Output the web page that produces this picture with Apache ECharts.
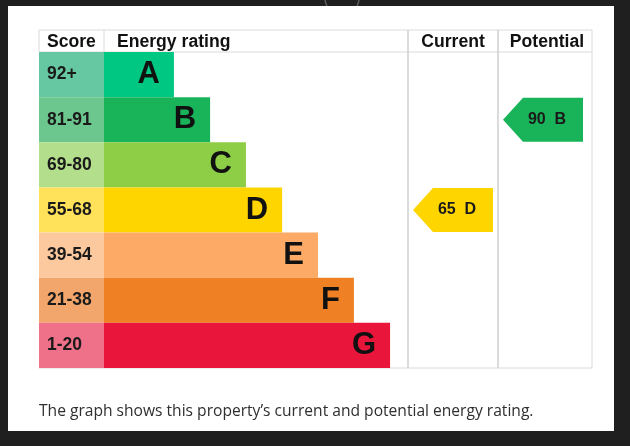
<!DOCTYPE html>
<html>
<head>
<meta charset="utf-8">
<script src="https://cdn.jsdelivr.net/npm/echarts@6/dist/echarts.min.js"></script>
<style>
  html, body { margin: 0; padding: 0; background: #1f1f1f; }
  #main { width: 630px; height: 446px; }
</style>
</head>
<body>
<div id="main"></div>
<script>
// bands, top to bottom
var bands = ['A', 'B', 'C', 'D', 'E', 'F', 'G'];
var scoreLabels = ['92+', '81-91', '69-80', '55-68', '39-54', '21-38', '1-20'];
var bandMin = [92, 81, 69, 55, 39, 21, 1];
// bar length, as % of the energy rating column
var barLength = [23, 34.9, 46.7, 58.6, 70.4, 82.2, 94.1];
var bandColors = ['#00c781', '#19b459', '#8dce46', '#ffd500', '#fcaa65', '#ef8023', '#e9153b'];
var scoreColors = ['#66c8a3', '#6cc78e', '#b3de8b', '#ffe25a', '#fcc89e', '#f3a66b', '#ee7089'];
var currentScore = 65;
var potentialScore = 90;

function bandOf(score) {
	for (var i = 0; i < bandMin.length; i++) {
		if (score >= bandMin[i]) return i;
	}
	return bandMin.length - 1;
}

var myChart = echarts.init(document.getElementById('main'), null, { renderer: 'canvas' });

var gridTop = 52, gridBottom = 78;
var grids = [
	{ left: 39, width: 65, top: gridTop, bottom: gridBottom },
	{ left: 104, width: 304, top: gridTop, bottom: gridBottom },
	{ left: 408, width: 90, top: gridTop, bottom: gridBottom },
	{ left: 498, width: 94, top: gridTop, bottom: gridBottom }
];
var xAxes = [], yAxes = [];
for (var g = 0; g < grids.length; g++) {
	xAxes.push({ type: 'value', gridIndex: g, min: 0, max: g == 1 ? 100 : 1, show: false });
	yAxes.push({ type: 'category', gridIndex: g, data: bands, inverse: true, show: false });
}

// arrow marker for current / potential
function arrowItem(params, api) {
	var cs = params.coordSys;
	var idx = api.value(1);
	var c = api.coord([0, idx]);
	var h = api.size([0, 1])[1] - 1;
	var x0 = cs.x + 5, x1 = cs.x + 85, tip = 20;
	var y0 = c[1] - h / 2, y1 = c[1] + h / 2;
	return {
		type: 'group',
		children: [{
			type: 'polygon',
			shape: { points: [[x0, c[1]], [x0 + tip, y0], [x1, y0], [x1, y1], [x0 + tip, y1]] },
			style: { fill: bandColors[idx] }
		}, {
			type: 'text',
			x: (x0 + x1) / 2 + 4, y: c[1],
			style: {
				text: api.value(0) + '  ' + bands[idx],
				fill: '#1a1a1a', font: 'bold 16px "Liberation Sans", Arial, sans-serif',
				align: 'center', verticalAlign: 'middle'
			}
		}]
	};
}

var lineColor = '#dadada';
function hline(x1, x2, y, color, w) {
	return { type: 'line', z: 1, shape: { x1: x1, y1: y, x2: x2, y2: y }, style: { stroke: color, lineWidth: w || 1 } };
}
function vline(x, y1, y2, color, w) {
	return { type: 'line', z: 1, shape: { x1: x, y1: y1, x2: x, y2: y2 }, style: { stroke: color, lineWidth: w || 1 } };
}
function headText(x, text, align) {
	return {
		type: 'text', z: 5, x: x, y: 42,
		style: { text: text, fill: '#111', font: 'bold 17.6px "Liberation Sans", Arial, sans-serif', align: align, verticalAlign: 'middle' }
	};
}

var option = {
	backgroundColor: '#1f1f1f',
	animation: false,
	graphic: [
		{ type: 'circle', z: 0, shape: { cx: 342, cy: -2, r: 17 }, style: { fill: 'none', stroke: '#5a5a5a', lineWidth: 1.5 } },
		{ type: 'rect', z: 0, shape: { x: 8, y: 6, width: 606, height: 425 }, style: { fill: '#ffffff' } },
		hline(39, 592, 30, lineColor),
		hline(39, 592, 52, lineColor),
		hline(39, 592, 368, lineColor),
		vline(39, 30, 52, lineColor),
		vline(104, 30, 52, lineColor),
		vline(408, 30, 368, '#cfcfcf', 1.5),
		vline(498, 30, 368, '#cfcfcf', 1.5),
		vline(592, 30, 368, lineColor),
		headText(47, 'Score', 'left'),
		headText(117, 'Energy rating', 'left'),
		headText(453, 'Current', 'center'),
		headText(547, 'Potential', 'center'),
		{
			type: 'text', z: 5, x: 39, y: 412,
			style: {
				text: 'The graph shows this property\u2019s current and potential energy rating.',
				fill: '#2f2f2f', font: '15.6px "Open Sans", sans-serif', verticalAlign: 'middle'
			}
		}
	],
	grid: grids,
	xAxis: xAxes,
	yAxis: yAxes,
	series: [{
		name: 'Score',
		type: 'bar',
		xAxisIndex: 0, yAxisIndex: 0,
		barCategoryGap: 0,
		data: scoreLabels.map(function (s, i) {
			return { value: 1, itemStyle: { color: scoreColors[i] } };
		}),
		label: {
			show: true, position: 'insideLeft', distance: 8,
			formatter: function (p) { return scoreLabels[p.dataIndex]; },
			color: '#1a1a1a', fontWeight: 'bold', fontSize: 17.5, fontFamily: 'Liberation Sans'
		}
	}, {
		name: 'Energy rating',
		type: 'bar',
		xAxisIndex: 1, yAxisIndex: 1,
		barCategoryGap: 0,
		data: barLength.map(function (v, i) {
			return { value: v, itemStyle: { color: bandColors[i] } };
		}),
		label: {
			show: true, position: 'insideRight', distance: 14,
			formatter: function (p) { return bands[p.dataIndex]; },
			color: '#111', fontWeight: 'bold', fontSize: 31, fontFamily: 'Liberation Sans'
		}
	}, {
		name: 'Current',
		type: 'custom',
		xAxisIndex: 2, yAxisIndex: 2,
		renderItem: arrowItem,
		data: [[currentScore, bandOf(currentScore)]]
	}, {
		name: 'Potential',
		type: 'custom',
		xAxisIndex: 3, yAxisIndex: 3,
		renderItem: arrowItem,
		data: [[potentialScore, bandOf(potentialScore)]]
	}]
};

myChart.setOption(option);
</script>
</body>
</html>
